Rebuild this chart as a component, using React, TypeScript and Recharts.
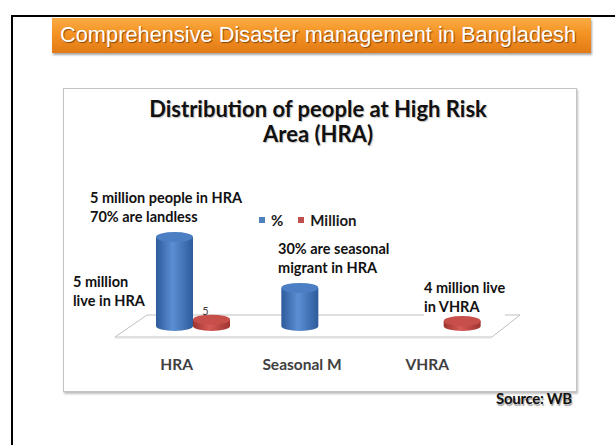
import React from 'react';
import { BarChart, Bar, XAxis, YAxis, Legend, LabelList } from 'recharts';

// ---------- data ----------
const categories = ['HRA', 'Seasonal M', 'VHRA'];
const percentValues = [70, 30, 0];
const millionValues = [5, 0, 4];
const seriesNames = ['%', 'Million'];
const yDomain: [number, number] = [0, 100];

const data = categories.map((c, i) => ({
  name: c,
  pct: percentValues[i],
  mil: millionValues[i],
}));

// ---------- layout ----------
const CHART_W = 514;
const CHART_H = 304;
const X_AXIS_H = 30;
const MARGIN = { top: 111, right: 71, bottom: 36, left: 67 };
const PLOT_LEFT = MARGIN.left;
const PLOT_RIGHT = CHART_W - MARGIN.right;
const BASE = CHART_H - MARGIN.bottom - X_AXIS_H;

const FONT = 'Lato, "Open Sans", sans-serif';

const palettes: Record<string, { dark: string; light: string; top: string; solid: string }> = {
  blue: { dark: '#2d5b9b', light: '#5b8fd3', top: '#4c7ec3', solid: '#4f81bd' },
  red: { dark: '#9e3430', light: '#d65a55', top: '#c74f4a', solid: '#c0504d' },
};

const makeCylinder = (key: string) => (props: any) => {
  const { x, y, width, height, index } = props;
  if (!height || height <= 0) return <g />;
  const pal = palettes[key];
  const rx = width / 2;
  const ry = 5;
  const cx = x + rx;
  const bottom = y + height;
  const gid = `cyl-${key}-${index}`;
  return (
    <g>
      <defs>
        <linearGradient id={gid} x1="0" y1="0" x2="1" y2="0">
          <stop offset="0" stopColor={pal.dark} />
          <stop offset="0.45" stopColor={pal.light} />
          <stop offset="1" stopColor={pal.dark} />
        </linearGradient>
      </defs>
      <path
        d={`M${x},${y} L${x},${bottom} A${rx},${ry} 0 0 0 ${x + width},${bottom} L${x + width},${y} Z`}
        fill={`url(#${gid})`}
      />
      <ellipse cx={cx} cy={y} rx={rx} ry={ry} fill={pal.top} />
    </g>
  );
};

const CategoryTick = (props: any) => {
  const { x, y, payload } = props;
  return (
    <text
      x={x - 16}
      y={y + 44}
      textAnchor="middle"
      fill="#404040"
      fontSize={15.5}
      fontWeight={700}
      fontFamily={FONT}
    >
      {payload.value}
    </text>
  );
};

// only the HRA value label is visible in the reference (the VHRA one sits under the note)
const ValueLabel = (props: any) => {
  const { x, y, width, value, index } = props;
  if (!value || index !== 0) return null;
  return (
    <text x={x + width / 2 - 6} y={y - 5} textAnchor="middle" fontSize={11} fill="#404040" fontFamily={FONT}>
      {value}
    </text>
  );
};

const LegendContent = (props: any) => {
  const { payload } = props;
  return (
    <div style={{ display: 'flex', alignItems: 'flex-start', fontFamily: FONT }}>
      {(payload || []).map((p: any, i: number) => (
        <div key={i} style={{ display: 'flex', alignItems: 'flex-start', marginRight: 15 }}>
          <div style={{ width: 6, height: 6, background: p.color, marginTop: 4, marginRight: 6 }} />
          <span style={{ fontSize: 15, fontWeight: 700, lineHeight: '14px', color: '#1a1a1a' }}>{p.value}</span>
        </div>
      ))}
    </div>
  );
};

const annotations = [
  { lines: ['5 million people in HRA', '70% are landless'], left: 27, top: 100 },
  { lines: ['5 million', 'live in HRA'], left: 10, top: 184 },
  { lines: ['30% are seasonal', 'migrant in HRA'], left: 215, top: 151 },
  { lines: ['4 million live', 'in VHRA'], left: 361, top: 190 },
];

export default function App() {
  const floor = [
    [PLOT_LEFT - 15, BASE + 11],
    [PLOT_RIGHT - 14, BASE + 11],
    [PLOT_RIGHT + 14, BASE - 11],
    [PLOT_LEFT + 17, BASE - 11],
  ]
    .map((p) => p.join(','))
    .join(' ');

  return (
    <div
      style={{
        position: 'absolute',
        left: 0,
        top: 0,
        width: 615,
        height: 445,
        background: '#fff',
        overflow: 'hidden',
        fontFamily: FONT,
      }}
    >
      {/* slide frame */}
      <div
        style={{
          position: 'absolute',
          left: 11,
          top: 15,
          width: 700,
          height: 500,
          borderTop: '2.5px solid #000',
          borderLeft: '2.5px solid #000',
        }}
      />
      {/* header bar */}
      <div
        style={{
          position: 'absolute',
          left: 52,
          top: 18,
          width: 539,
          height: 35,
          background: 'linear-gradient(#fbab45, #f39322 45%, #e27a16)',
          boxShadow: '1px 2px 2px rgba(0,0,0,0.35)',
        }}
      >
        <div
          style={{
            position: 'absolute',
            left: 8,
            top: 5,
            fontFamily: '"Liberation Sans", Arial, sans-serif',
            fontSize: 21.8,
            lineHeight: '24px',
            color: '#fff',
            whiteSpace: 'nowrap',
            textShadow: '1px 1px 1px rgba(90,40,0,0.7)',
          }}
        >
          Comprehensive Disaster management in Bangladesh
        </div>
      </div>

      {/* chart box */}
      <div
        style={{
          position: 'absolute',
          left: 63,
          top: 88,
          width: CHART_W,
          height: CHART_H,
          background: '#fff',
          boxShadow: 'inset 0 0 0 1px #c4c4c4, 1px 2px 2px rgba(0,0,0,0.25)',
        }}
      >
        <svg width={CHART_W} height={CHART_H} style={{ position: 'absolute', left: 0, top: 0 }}>
          <polygon points={floor} fill="#fff" stroke="#c0c0c0" strokeWidth={1} />
          <line
            x1={PLOT_LEFT - 15}
            y1={BASE + 12}
            x2={PLOT_RIGHT - 14}
            y2={BASE + 12}
            stroke="#e0e0e0"
            strokeWidth={1}
          />
        </svg>

        <div
          style={{
            position: 'absolute',
            left: 0,
            top: 8,
            width: 510,
            textAlign: 'center',
            fontSize: 22,
            lineHeight: '25px',
            fontWeight: 700,
            color: '#111',
            textShadow: '1px 1px 1px rgba(0,0,0,0.25)',
          }}
        >
          Distribution of people at High Risk
          <br />
          Area (HRA)
        </div>

        <div style={{ position: 'absolute', left: 0, top: 0 }}>
          <BarChart width={CHART_W} height={CHART_H} data={data} margin={MARGIN} barGap={0} barSize={37}>
            <XAxis
              dataKey="name"
              height={X_AXIS_H}
              axisLine={false}
              tickLine={false}
              tickSize={0}
              tickMargin={0}
              interval={0}
              tick={<CategoryTick />}
            />
            <YAxis hide domain={yDomain} />
            <Legend
              layout="horizontal"
              verticalAlign="middle"
              align="center"
              content={<LegendContent />}
              wrapperStyle={{ left: 196, top: 125, width: 200 }}
            />
            <Bar
              dataKey="pct"
              name={seriesNames[0]}
              fill={palettes.blue.solid}
              shape={makeCylinder('blue')}
              isAnimationActive={false}
            />
            <Bar
              dataKey="mil"
              name={seriesNames[1]}
              fill={palettes.red.solid}
              shape={makeCylinder('red')}
              isAnimationActive={false}
            >
              <LabelList dataKey="mil" content={<ValueLabel />} />
            </Bar>
          </BarChart>
        </div>

        {annotations.map((a, i) => (
          <div
            key={i}
            style={{
              position: 'absolute',
              left: a.left,
              top: a.top,
              fontSize: 14.5,
              lineHeight: '19px',
              fontWeight: 700,
              color: '#111',
              background: '#fff',
              whiteSpace: 'nowrap',
            }}
          >
            {a.lines.map((l, j) => (
              <div key={j}>{l}</div>
            ))}
          </div>
        ))}
      </div>

      {/* source */}
      <div
        style={{
          position: 'absolute',
          left: 496,
          top: 389,
          fontSize: 15,
          fontWeight: 700,
          color: '#111',
          letterSpacing: -0.3,
          textShadow: '1px 2px 1px rgba(0,0,0,0.35)',
          whiteSpace: 'nowrap',
        }}
      >
        Source: WB
      </div>
    </div>
  );
}
